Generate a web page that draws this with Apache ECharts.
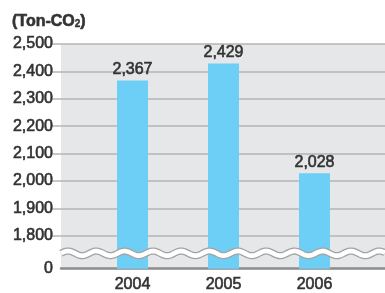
<!DOCTYPE html>
<html>
<head>
<meta charset="utf-8">
<script src="https://cdn.jsdelivr.net/npm/echarts@6/dist/echarts.min.js"></script>
<style>
html,body{margin:0;padding:0;background:#fff;}
#c{width:385px;height:293px;}
</style>
</head>
<body>
<div id="c"></div>
<script>
// ---- data ----
const years = [2004, 2005, 2006];
const emissions = [2367, 2429, 2028];
const yTickValues = [0, 1800, 1900, 2000, 2100, 2200, 2300, 2400, 2500];
const unitLabel = '(Ton-CO';

// ---- broken-axis mapping: 0..1800 compressed into a short gap ----
const BREAK_AT = 1800, GAP = 120;
function toDisp(v) { return v <= 0 ? 0 : v - BREAK_AT + GAP; }
function fmt(v) { return String(v).replace(/\B(?=(\d{3})+(?!\d))/g, ','); }
const dispTicks = yTickValues.map(toDisp);
const gridTicks = yTickValues.filter(v => v >= BREAK_AT).map(toDisp);
const dispToReal = {};
yTickValues.forEach(v => { dispToReal[toDisp(v)] = v; });

const FONT = '"Liberation Sans", Arial, sans-serif';
const TXT = '#333333';
const heavy = {textBorderColor: TXT, textBorderWidth: 0.6};

const chart = echarts.init(document.getElementById('c'), null, {renderer: 'canvas'});
chart.setOption({
  animation: false,
  backgroundColor: '#ffffff',
  title: {
    text: '{a|' + unitLabel + '}{b|2}{a|)}',
    left: 7, top: 9,
    textStyle: {
      rich: {
        a: Object.assign({fontFamily: FONT, fontSize: 16, color: TXT}, heavy),
        b: Object.assign({fontFamily: FONT, fontSize: 10, color: TXT, padding: [5, 0, 0, 0]}, {textBorderColor: TXT, textBorderWidth: 0.4})
      }
    }
  },
  grid: {left: 61, right: 0, top: 44, bottom: 21, show: true, backgroundColor: '#e6e7e8', borderWidth: 0},
  xAxis: {
    type: 'value',
    min: 2003.2143, max: 2006.7747,
    splitLine: {show: false},
    axisTick: {show: false},
    axisLine: {show: true, lineStyle: {color: '#8c8c8c', width: 2.5}},
    axisLabel: Object.assign({
      customValues: years,
      formatter: v => String(v),
      fontFamily: FONT, fontSize: 16, color: TXT, margin: 8
    }, heavy)
  },
  yAxis: {
    type: 'value',
    min: 0, max: toDisp(2500),
    axisLine: {show: false},
    axisTick: {show: true, customValues: gridTicks, length: 9, lineStyle: {color: '#b5b5b5', width: 1.5}},
    splitLine: {show: true, lineStyle: {color: '#b5b5b5', width: 1.5}},
    axisLabel: Object.assign({
      customValues: dispTicks,
      formatter: v => fmt(dispToReal[Math.round(v)] ?? ''),
      fontFamily: FONT, fontSize: 16, color: TXT, margin: 8
    }, heavy)
  },
  series: [
    {
      type: 'bar',
      barWidth: 31,
      z: 2,
      itemStyle: {color: '#6dcff6'},
      data: years.map((y, i) => [y, toDisp(emissions[i])]),
      label: Object.assign({
        show: true, position: 'top', distance: 3,
        formatter: p => fmt(emissions[p.dataIndex]),
        fontFamily: FONT, fontSize: 16, color: TXT
      }, heavy)
    },
    {
      type: 'custom',
      z: 5,
      silent: true,
      data: [[2003.2143, 56]],
      renderItem: function (params, api) {
        const cs = params.coordSys;
        const yc = api.coord([api.value(0), api.value(1)])[1];
        const pts = [];
        const P = 28.3, A = 2.3, phase = 7;
        for (let x = cs.x; x <= cs.x + cs.width + 0.5; x += 1) {
          pts.push([x, yc - A * Math.cos(2 * Math.PI * (x - cs.x - phase) / P)]);
        }
        return {
          type: 'group',
          children: [
            {type: 'polyline', shape: {points: pts}, style: {stroke: '#a3a3a3', lineWidth: 7.2, fill: null}},
            {type: 'polyline', shape: {points: pts}, style: {stroke: '#ffffff', lineWidth: 4.6, fill: null}}
          ]
        };
      }
    }
  ]
});
</script>
</body>
</html>
